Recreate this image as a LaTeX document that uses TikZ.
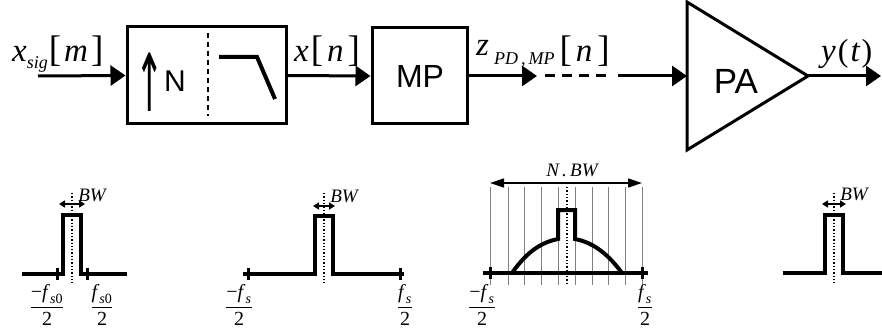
\RequirePackage{fix-cm}
\documentclass[tikz,border=0pt]{standalone}
\usepackage{amsmath}
\usepackage{graphicx}
\usepackage{fontspec}
\setmainfont{Liberation Serif}
\setsansfont{Liberation Sans}
\newfontfamily\dejavu{DejaVu Sans}
\usetikzlibrary{arrows.meta}
\newcommand{\ti}[1]{\text{\itshape #1}}
\newcommand{\up}[1]{\text{\upshape #1}}
\newcommand{\BR}[1]{{\fontsize{37}{37}\selectfont\upshape #1}}
\newcommand{\PR}[1]{{\fontsize{32}{32}\selectfont\upshape #1}}
\newcommand{\SB}[3]{\raisebox{#1}{\fontsize{#2}{#2}\selectfont\itshape #3}}
\begin{document}
\begin{tikzpicture}[x=1pt,y=1pt,
  blk/.style={draw,line width=3pt,inner sep=0pt},
  conn/.style={line width=3pt,-{Triangle[length=15pt,width=20pt]}},
  spec/.style={line width=4pt,line join=miter},
  tk/.style={line width=3pt},
  vl/.style={gray,line width=0.8pt},
  ctr/.style={dotted,line width=1.3pt},
  bwarr/.style={line width=1.5pt,{Triangle[length=6pt,width=7pt]}-{Triangle[length=6pt,width=7pt]}},
  nbwarr/.style={line width=1.5pt,{Triangle[length=14pt,width=9pt]}-{Triangle[length=14pt,width=9pt]}},
  lbl/.style={font=\fontsize{33}{35}\selectfont\itshape,inner sep=0pt,anchor=base west},
  sml/.style={font=\fontsize{19}{21}\selectfont,inner sep=0pt},
  frc/.style={font=\fontsize{20}{22}\selectfont,inner sep=0pt}]
\useasboundingbox (0,0) rectangle (882,-331);

% ---- top chain ----
\node[blk,minimum width=159pt,minimum height=97pt] (up) at (206.5,-75.5) {};
\node[blk,minimum width=95pt,minimum height=96pt] (mp) at (419.5,-76) {};
\node[font=\sffamily\fontsize{32}{34}\selectfont,inner sep=0pt] (mptxt) at (420,-76) {MP};
\node[inner sep=0pt] (uparr) at (150,-82.5) {\scalebox{0.85}[2.0]{\dejavu\fontsize{40}{42}\selectfont ↑}};
\node[font=\sffamily\fontsize{30}{32}\selectfont,inner sep=0pt,anchor=base west] (ntxt) at (164,-92) {N};
\draw[dash pattern=on 5pt off 4pt,line width=2.5pt] (208,-33) -- (208,-116);
\draw[line width=4pt] (219,-57) -- (257,-57) -- (275,-99);

% PA triangle
\coordinate (pain) at (687,-76);
\coordinate (paout) at (808,-76);
\draw[line width=3pt,line join=miter] (687,-2) -- (paout) -- (687,-150) -- cycle;
\node[font=\sffamily\fontsize{35}{37}\selectfont,inner sep=0pt] (patxt) at (736,-81) {PA};

\coordinate (xin) at (38,-76);
\coordinate (zend) at (537,-76);
\coordinate (dstart) at (545,-76);
\coordinate (dend) at (612,-76);
\coordinate (sstart) at (618,-76);
\coordinate (yout) at (881,-76);

\draw[conn] (xin) -- (up.west);
\draw[conn] (up.east) -- (mp.west);
\draw[conn] (mp.east) -- (zend);
\draw[line width=3pt,dash pattern=on 10pt off 7pt] (dstart) -- (dend);
\draw[conn] (sstart) -- (pain);
\draw[conn] (paout) -- (yout);

\node[lbl] (lxs) at (12,-62) {x\SB{-7pt}{18}{sig}\kern1pt\BR{[}\kern3pt m\kern3pt\BR{]}};
\node[lbl] (lxn) at (294,-62) {x\kern2pt\BR{[}\kern4pt n\kern4pt\BR{]}};
\node[lbl] (lz) at (476,-62) {\raisebox{6pt}{z}\kern5pt\SB{-3pt}{18}{PD\,,\,MP}\kern5pt\BR{[}\kern4pt n\kern5pt\BR{]}};
\node[lbl] (ly) at (821,-62) {y\kern2pt\PR{(}\kern2pt t\kern2pt\PR{)}};

% ---- spectrum 1 ----
\draw[spec] (22,-274) -- (63,-274) -- (63,-215) -- (81,-215) -- (81,-274) -- (127,-274);
\draw[tk] (57,-268) -- (57,-280);
\draw[tk] (87,-268) -- (87,-280);
\draw[ctr] (72,-193) -- (72,-283);
\draw[bwarr] (59,-204) -- (85,-204);
\node[sml] (bw1) at (92,-195) {\itshape BW};
\node[frc] (f1a) at (47,-305) {$\dfrac{\up{−}\ti{f}_{\,\ti{s}\up{0}}}{\up{2}}$};
\node[frc] (f1b) at (102,-305) {$\dfrac{\ti{f}_{\,\ti{s}\up{0}}}{\up{2}}$};

% ---- spectrum 2 ----
\draw[spec] (243,-274) -- (315,-274) -- (315,-216) -- (333,-216) -- (333,-274) -- (404,-274);
\draw[tk] (248,-268) -- (248,-280);
\draw[tk] (400,-268) -- (400,-280);
\draw[ctr] (324,-193) -- (324,-284);
\draw[bwarr] (313,-206) -- (335,-206);
\node[sml] (bw2) at (344,-196) {\itshape BW};
\node[frc] (f2a) at (239,-305) {$\dfrac{\up{−}\ti{f}_{\,\ti{s}}}{\up{2}}$};
\node[frc] (f2b) at (405,-305) {$\dfrac{\ti{f}_{\,\ti{s}}}{\up{2}}$};

% ---- spectrum 3 ----
\foreach \xx in {490,508,524,541,558,575,592,608,625,642}
  \draw[vl] (\xx,-187) -- (\xx,-285);
\draw[spec] (483,-273) -- (648,-273);
\draw[tk] (490,-267) -- (490,-279);
\draw[tk] (642,-267) -- (642,-279);
\draw[spec] (512,-273) .. controls (528,-250) and (543,-242) .. (558,-239)
  -- (558,-210) -- (575,-210) -- (575,-239)
  .. controls (590,-242) and (605,-250) .. (622,-273);
\draw[ctr] (567,-187) -- (567,-285);
\draw[nbwarr] (490,-183) -- (642,-183);
\node[sml] (nbw) at (572,-170) {\itshape N\,.\,BW};
\node[frc] (f3a) at (482,-305) {$\dfrac{\up{−}\ti{f}_{\,\ti{s}}}{\up{2}}$};
\node[frc] (f3b) at (645,-305) {$\dfrac{\ti{f}_{\,\ti{s}}}{\up{2}}$};

% ---- spectrum 4 ----
\draw[spec] (783,-273) -- (825,-273) -- (825,-215) -- (843,-215) -- (843,-273) -- (884,-273);
\draw[ctr] (834,-193) -- (834,-283);
\draw[bwarr] (822,-204) -- (846,-204);
\node[sml] (bw4) at (854,-194) {\itshape BW};
\end{tikzpicture}
\end{document}
